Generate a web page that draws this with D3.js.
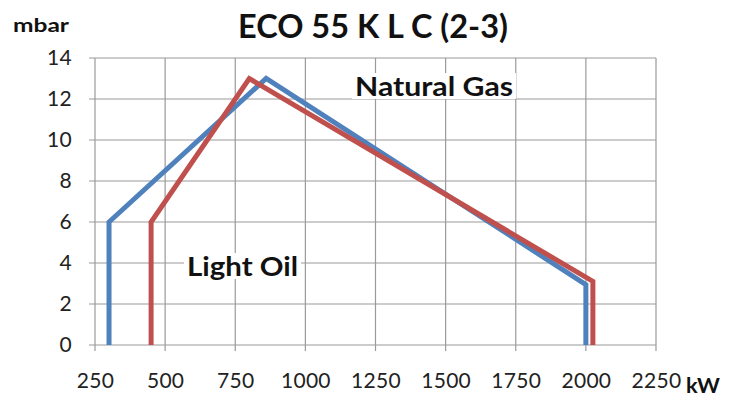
<!DOCTYPE html>
<html><head><meta charset="utf-8">
<script src="https://cdn.jsdelivr.net/npm/d3@7"></script>
<style>body{margin:0;background:#fff}svg{display:block}</style>
</head><body><svg id="c" width="739" height="401"></svg>
<script>
const gasKW = [300, 300, 860, 2000, 2000];
const gasMbar = [0, 6, 13, 2.95, 0];
const oilKW = [450, 450, 800, 2025, 2025];
const oilMbar = [0, 6, 13, 3.1, 0];
const xTicks = [250, 500, 750, 1000, 1250, 1500, 1750, 2000, 2250];
const yTicks = [0, 2, 4, 6, 8, 10, 12, 14];
const title = "ECO 55 K L C (2-3)";

const font = "Lato, 'Open Sans', sans-serif";
const svg = d3.select("#c");
const x = d3.scaleLinear().domain([250, 2250]).range([95, 656]);
const y = d3.scaleLinear().domain([0, 14]).range([345, 58]);

// gridlines
const grid = svg.append("g");
grid.selectAll("line.v").data(xTicks).join("line")
  .attr("x1", d => x(d)).attr("x2", d => x(d)).attr("y1", y(14)).attr("y2", y(0) + 6)
  .attr("stroke", "#9a9a9a").attr("stroke-width", 1.2);
grid.selectAll("line.h").data(yTicks).join("line")
  .attr("x1", x(250) - 6).attr("x2", x(2250)).attr("y1", d => y(d)).attr("y2", d => y(d))
  .attr("stroke", "#9a9a9a").attr("stroke-width", 1.2);

// axes labels
const xa = svg.append("g").attr("transform", `translate(0,${y(0)})`)
  .call(d3.axisBottom(x).tickValues(xTicks).tickSize(0).tickPadding(28).tickFormat(d3.format("d")));
xa.select(".domain").remove();
xa.selectAll("text").attr("font-family", font).attr("font-size", 21).attr("letter-spacing", 0.3).attr("fill", "#222");
const ya = svg.append("g").attr("transform", `translate(${x(250)},0)`)
  .call(d3.axisLeft(y).tickValues(yTicks).tickSize(0).tickPadding(23));
ya.select(".domain").remove();
ya.selectAll("text").attr("font-family", font).attr("font-size", 21).attr("letter-spacing", 0.3).attr("fill", "#222");

// lines
const line = d3.line().x(d => x(d[0])).y(d => y(d[1])).curve(d3.curveLinear);
const gas = gasKW.map((k, i) => [k, gasMbar[i]]);
const oil = oilKW.map((k, i) => [k, oilMbar[i]]);
svg.append("path").datum(gas).attr("d", line).attr("fill", "none")
  .attr("stroke", "#4f81bd").attr("stroke-width", 5).attr("stroke-linejoin", "miter");
svg.append("path").datum(oil).attr("d", line).attr("fill", "none")
  .attr("stroke", "#c0504d").attr("stroke-width", 5).attr("stroke-linejoin", "miter");

// series labels
function label(txt, lx, ly, len) {
  const g = svg.append("g");
  const r = g.append("rect").attr("fill", "#fff");
  const t = g.append("text").attr("x", lx).attr("y", ly).text(txt)
    .attr("font-family", font).attr("font-weight", "bold").attr("font-size", 26).attr("fill", "#111")
    .attr("textLength", len).attr("lengthAdjust", "spacingAndGlyphs");
  const b = t.node().getBBox();
  r.attr("x", b.x - 3).attr("y", b.y + 3).attr("width", b.width + 6).attr("height", b.height - 6);
}
label("Natural Gas", 355, 96, 158);
label("Light Oil", 187, 276, 111);

// title & units
svg.append("text").attr("x", 238).attr("y", 38).text(title)
  .attr("font-family", font).attr("font-weight", "bold").attr("font-size", 32).attr("fill", "#111")
  .attr("textLength", 270).attr("lengthAdjust", "spacingAndGlyphs");
svg.append("text").attr("x", 13).attr("y", 32).text("mbar")
  .attr("font-family", font).attr("font-weight", "bold").attr("font-size", 18).attr("fill", "#111")
  .attr("textLength", 56).attr("lengthAdjust", "spacingAndGlyphs");
svg.append("text").attr("x", 686).attr("y", 393).text("kW")
  .attr("font-family", font).attr("font-weight", "bold").attr("font-size", 21).attr("fill", "#111")
  .attr("textLength", 34).attr("lengthAdjust", "spacingAndGlyphs");
</script></body></html>
